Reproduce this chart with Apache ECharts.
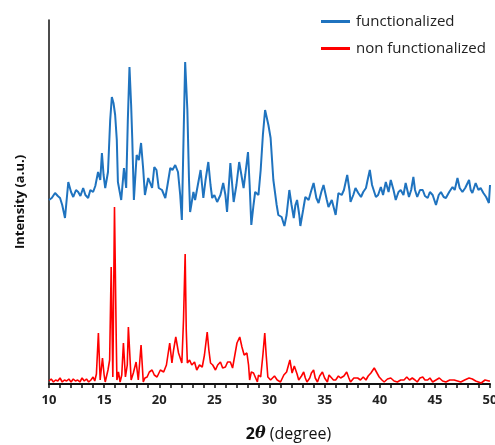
<!DOCTYPE html>
<html lang="en">

<head>
    <meta charset="UTF-8">
    <title>XRD</title>
    <style>
        * {
            margin: 0;
            padding: 0;
        }

        .mychart {
            width: 495px;
            height: 445px;
        }
    </style>
</head>

<body>
    <div class="mychart"></div>
</body>
<script src="https://cdn.jsdelivr.net/npm/echarts@6/dist/echarts.min.js"></script>
<script>
    // legend names
    const names = ['functionalized', 'non functionalized']

    // x axis ticks (2θ)
    const xMin = 10
    const xMax = 50
    const xStep = 5

    // [2θ, intensity], blue trace (offset upward)
    const functionalized = [
        [10.0, 184], [10.25, 186], [10.55, 191], [10.8, 188], [11.0, 186], [11.2, 179], [11.45, 166],
        [11.75, 202], [12.0, 192], [12.2, 187], [12.45, 194], [12.65, 192], [12.85, 188], [13.1, 196],
        [13.3, 189], [13.55, 186], [13.75, 194], [14.0, 192], [14.2, 198], [14.45, 212], [14.65, 204],
        [14.8, 231], [14.95, 209], [15.1, 196], [15.35, 212], [15.55, 264], [15.7, 287], [15.85, 281],
        [16.0, 269], [16.15, 244], [16.25, 202], [16.55, 184], [16.8, 216], [17.0, 196], [17.15, 264],
        [17.3, 317], [17.45, 279], [17.55, 246], [17.7, 184], [17.95, 229], [18.15, 224], [18.35, 241],
        [18.55, 214], [18.7, 189], [19.0, 206], [19.35, 196], [19.55, 217], [19.75, 214], [19.95, 196],
        [20.25, 194], [20.55, 186], [20.75, 199], [21.0, 216], [21.2, 214], [21.45, 219], [21.7, 212],
        [21.9, 189], [22.05, 164], [22.2, 244], [22.35, 322], [22.55, 274], [22.7, 204], [22.8, 172],
        [23.1, 192], [23.25, 184], [23.4, 182], [23.75, 214], [24.0, 186], [24.2, 204], [24.45, 222],
        [24.65, 199], [24.8, 186], [25.0, 189], [25.25, 182], [25.55, 189], [25.8, 201], [26.0, 189],
        [26.15, 172], [26.45, 221], [26.75, 182], [27.0, 199], [27.25, 222], [27.45, 209], [27.65, 196],
        [27.8, 209], [28.05, 232], [28.2, 199], [28.35, 159], [28.55, 179], [28.7, 192], [29.0, 189],
        [29.2, 214], [29.4, 249], [29.6, 274], [29.75, 274], [29.9, 259], [30.1, 246], [30.35, 204],
        [30.65, 179], [30.8, 169], [31.1, 167], [31.35, 158], [31.55, 169], [31.8, 194], [32.0, 179],
        [32.2, 166], [32.35, 179], [32.5, 184], [32.7, 169], [32.8, 158], [33.05, 174], [33.25, 187],
        [33.55, 184], [33.75, 192], [34.0, 201], [34.25, 186], [34.45, 181], [34.7, 192], [34.9, 199],
        [35.2, 184], [35.35, 177], [35.65, 184], [36.0, 169], [36.25, 191], [36.55, 189], [36.75, 194],
        [37.05, 209], [37.25, 194], [37.35, 182], [37.6, 189], [37.8, 196], [38.05, 191], [38.3, 187],
        [38.5, 192], [38.75, 196], [38.9, 204], [39.1, 214], [39.3, 199], [39.65, 187], [39.85, 189],
        [40.1, 197], [40.3, 189], [40.55, 202], [40.8, 192], [41.0, 204], [41.25, 194], [41.45, 184],
        [41.7, 192], [41.9, 194], [42.15, 189], [42.35, 201], [42.65, 187], [42.85, 194], [43.05, 207],
        [43.2, 194], [43.4, 187], [43.65, 194], [43.9, 194], [44.1, 188], [44.35, 186], [44.55, 192],
        [44.8, 189], [44.95, 184], [45.1, 179], [45.35, 189], [45.55, 192], [45.8, 187], [46.0, 186],
        [46.3, 192], [46.6, 197], [46.8, 194], [47.05, 206], [47.25, 196], [47.5, 192], [47.75, 196],
        [48.1, 204], [48.25, 194], [48.4, 191], [48.55, 196], [48.7, 201], [48.95, 194], [49.15, 196],
        [49.4, 191], [49.65, 187], [49.9, 181], [50.0, 199]
    ]

    // red trace
    const nonFunctionalized = [
        [10.0, 3], [10.2, 5], [10.4, 2], [10.6, 4], [10.8, 3], [11.0, 6], [11.2, 2], [11.4, 4],
        [11.6, 3], [11.8, 5], [12.0, 2], [12.2, 5], [12.4, 3], [12.6, 4], [12.8, 2], [13.0, 6],
        [13.2, 3], [13.4, 5], [13.6, 2], [13.8, 4], [14.0, 7], [14.15, 3], [14.3, 10], [14.48, 51],
        [14.64, 4], [14.85, 26], [15.0, 9], [15.1, 2], [15.35, 14], [15.5, 24], [15.64, 117],
        [15.79, 7], [15.94, 177], [16.1, 44], [16.16, 4], [16.3, 12], [16.45, 2], [16.6, 9],
        [16.75, 41], [16.93, 7], [17.1, 19], [17.2, 57], [17.45, 4], [17.65, 11], [17.9, 22],
        [18.1, 4], [18.35, 39], [18.55, 2], [18.7, 6], [18.9, 7], [19.1, 12], [19.35, 14], [19.55, 9],
        [19.8, 7], [20.1, 14], [20.4, 12], [20.65, 19], [20.95, 41], [21.15, 21], [21.3, 34],
        [21.5, 47], [21.75, 31], [21.9, 26], [22.05, 21], [22.2, 64], [22.35, 130], [22.45, 54],
        [22.55, 21], [22.75, 24], [22.95, 19], [23.2, 22], [23.4, 14], [23.65, 19], [23.9, 17],
        [24.1, 29], [24.35, 52], [24.5, 34], [24.65, 21], [24.85, 19], [25.1, 14], [25.3, 19],
        [25.55, 22], [25.75, 16], [26.0, 17], [26.2, 22], [26.45, 22], [26.65, 16], [26.8, 14],
        [27.05, 41], [27.3, 47], [27.5, 37], [27.7, 29], [27.95, 31], [28.1, 19], [28.2, 4],
        [28.35, 12], [28.55, 11], [28.9, 2], [29.0, 9], [29.2, 7], [29.4, 29], [29.57, 51], [29.7, 29],
        [29.85, 7], [30.1, 4], [30.25, 2], [30.45, 8], [30.7, 4], [31.0, 2], [31.3, 9], [31.55, 12],
        [31.75, 20], [31.85, 24], [32.05, 11], [32.25, 18], [32.35, 19], [32.5, 10], [32.65, 4],
        [32.9, 8], [33.1, 12], [33.25, 6], [33.4, 2], [33.65, 6], [33.8, 11], [34.0, 14], [34.15, 6],
        [34.35, 2], [34.55, 8], [34.8, 12], [35.0, 6], [35.25, 2], [35.4, 9], [35.55, 11], [35.8, 4],
        [36.0, 4], [36.25, 8], [36.45, 6], [36.75, 8], [37.0, 12], [37.2, 6], [37.35, 2], [37.65, 6],
        [38.0, 6], [38.25, 4], [38.5, 7], [38.75, 4], [38.95, 8], [39.2, 11], [39.5, 16], [39.7, 12],
        [39.95, 7], [40.2, 4], [40.4, 2], [40.7, 5], [41.0, 6], [41.3, 3], [41.6, 2], [41.9, 4],
        [42.2, 4], [42.45, 7], [42.7, 4], [42.95, 6], [43.2, 4], [43.4, 2], [43.65, 6], [43.9, 7],
        [44.1, 4], [44.35, 4], [44.55, 6], [44.8, 2], [45.1, 4], [45.4, 6], [45.7, 3], [46.0, 2],
        [46.35, 4], [46.75, 4], [47.05, 3], [47.35, 2], [47.7, 4], [48.1, 6], [48.4, 5], [48.7, 3],
        [49.2, 1], [49.55, 4], [49.9, 3], [50.0, 3]
    ]

    const myChart = echarts.init(document.querySelector('.mychart'))

    const config = {
        animation: false,
        textStyle: {
            fontFamily: 'Open Sans'
        },
        grid: {
            left: 49,
            right: 5,
            top: 20,
            bottom: 61,
            outerBoundsMode: 'none'
        },
        legend: {
            orient: 'vertical',
            left: 316,
            top: 9,
            itemGap: 12,
            itemWidth: 29,
            itemHeight: 3,
            icon: 'rect',
            textStyle: {
                fontSize: 15,
                color: '#222',
                fontFamily: 'Open Sans',
                padding: [0, 0, 0, 1]
            },
            data: names
        },
        xAxis: {
            type: 'value',
            min: xMin,
            max: xMax,
            interval: xStep,
            name: '{a|2}{b|θ}{c| (degree)}',
            nameLocation: 'middle',
            nameGap: 42,
            nameTextStyle: {
                padding: [0, 0, 0, 38],
                rich: {
                    a: { fontSize: 16, fontWeight: 'bold', color: '#111', fontFamily: 'Open Sans' },
                    b: { fontSize: 16, fontWeight: 'bold', fontStyle: 'italic', color: '#111', fontFamily: 'DejaVu Serif' },
                    c: { fontSize: 16, color: '#111', fontFamily: 'Open Sans' }
                }
            },
            axisLine: {
                lineStyle: { color: '#111', width: 2 }
            },
            axisTick: {
                show: true,
                inside: false,
                length: 4,
                lineStyle: { color: '#111', width: 1.5 }
            },
            minorTick: {
                show: true,
                splitNumber: 5,
                length: 4,
                lineStyle: { color: '#111', width: 1.5 }
            },
            axisLabel: {
                margin: 10,
                fontSize: 13,
                fontWeight: 'bold',
                color: '#222'
            },
            splitLine: { show: false }
        },
        yAxis: {
            type: 'value',
            min: 0,
            max: 364,
            name: 'Intensity (a.u.)',
            nameLocation: 'middle',
            nameGap: 22,
            nameTextStyle: {
                fontSize: 13,
                fontWeight: 'bold',
                color: '#111'
            },
            axisLine: {
                show: true,
                lineStyle: { color: '#111', width: 1.5 }
            },
            axisTick: { show: false },
            axisLabel: { show: false },
            splitLine: { show: false }
        },
        series: [{
            name: names[0],
            type: 'line',
            data: functionalized,
            showSymbol: false,
            color: '#1f73bf',
            lineStyle: { width: 2, color: '#1f73bf' }
        }, {
            name: names[1],
            type: 'line',
            data: nonFunctionalized,
            showSymbol: false,
            color: '#ff0000',
            lineStyle: { width: 1.6, color: '#ff0000' }
        }]
    }

    myChart.setOption(config)
</script>

</html>
